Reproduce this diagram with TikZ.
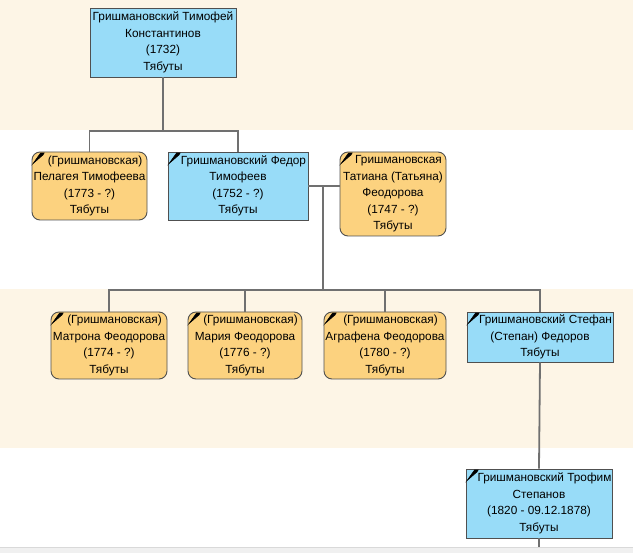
\documentclass[tikz,border=0pt]{standalone}
\usepackage{fontspec}
\setmainfont{Liberation Sans}
\definecolor{bandbeige}{HTML}{FDF5E6}
\definecolor{boxblue}{HTML}{98DCF8}
\definecolor{boxorange}{HTML}{FCD27F}
\definecolor{boxborder}{HTML}{505050}
\definecolor{linkgray}{HTML}{707070}
\definecolor{stripgray}{HTML}{F0F0F0}
\tikzset{
  person/.style={draw=boxborder, line width=0.9pt, align=center, inner sep=0pt,
    font=\fontsize{11.8}{16.5}\selectfont},
  bluebox/.style={person, fill=boxblue},
  orangebox/.style={person, fill=boxorange, rounded corners=8pt},
  link/.style={draw=linkgray, line width=1.8pt},
  deadmark/.style={fill=black, draw=black, line width=0.6pt, line join=miter}
}
\newcommand{\mk}{\hspace*{11pt}}
\newcommand{\markcorner}[1]{\filldraw[deadmark] ([shift={(1.5,12)}]#1.north west) -- ++(7.5,-10.5) -- ++(3.5,0) -- ++(-1,1.8) -- cycle;}
\begin{document}
\begin{tikzpicture}[x=1pt,y=-1pt]
\useasboundingbox (0,0) rectangle (633,553);
% background bands
\fill[bandbeige] (0,0) rectangle (633,130);
\fill[white] (0,130) rectangle (633,289);
\fill[bandbeige] (0,289) rectangle (633,448);
\fill[white] (0,448) rectangle (633,547);
% nodes
\node[bluebox, minimum width=146, minimum height=69] (timofey) at (163,42.5)
  {Гришмановский Тимофей\\Константинов\\(1732)\\Тябуты};
\node[orangebox, minimum width=115, minimum height=68] (pelageya) at (89.5,186)
  {\mk(Гришмановская)\\Пелагея Тимофеева\\(1773 - ?)\\Тябуты};
\node[bluebox, minimum width=140, minimum height=68] (fedor) at (238,186)
  {\mk Гришмановский Федор\\Тимофеев\\(1752 - ?)\\Тябуты};
\node[orangebox, minimum width=106, minimum height=84] (tatiana) at (393,194)
  {\mk Гришмановская\\Татиана (Татьяна)\\Феодорова\\(1747 - ?)\\Тябуты};
\node[orangebox, minimum width=116, minimum height=67] (matrona) at (109,345.5)
  {\mk(Гришмановская)\\Матрона Феодорова\\(1774 - ?)\\Тябуты};
\node[orangebox, minimum width=114, minimum height=67] (maria) at (245,345.5)
  {\mk(Гришмановская)\\Мария Феодорова\\(1776 - ?)\\Тябуты};
\node[orangebox, minimum width=122, minimum height=67] (agrafena) at (385,345.5)
  {\mk(Гришмановская)\\Аграфена Феодорова\\(1780 - ?)\\Тябуты};
\node[bluebox, minimum width=146, minimum height=50] (stefan) at (540,337)
  {\mk Гришмановский Стефан\\(Степан) Федоров\\Тябуты};
\node[bluebox, minimum width=146, minimum height=69] (trofim) at (539,503.5)
  {\mk Гришмановский Трофим\\Степанов\\(1820 - 09.12.1878)\\Тябуты};
% connectors
\coordinate (j1) at (163,131);
\draw[link] (timofey.south) -- (j1);
\draw[link] (pelageya.north) |- (j1) -| (fedor.north);
\draw[link] (fedor.east) -- (tatiana.west |- fedor.east);
\coordinate (m1) at (323,186);
\coordinate (m2) at (323,290);
\draw[link] (m1) -- (m2);
\draw[link] (matrona.north) |- (m2) -| (stefan.north);
\draw[link] (maria.north) -- (maria.north |- m2);
\draw[link] (agrafena.north) -- (agrafena.north |- m2);
\draw[link] (stefan.south) -- (trofim.north);
\coordinate (bottomend) at (539,553);
\draw[link] (trofim.south) -- (bottomend);
% death marks
\markcorner{pelageya}
\markcorner{fedor}
\markcorner{tatiana}
\markcorner{matrona}
\markcorner{maria}
\markcorner{agrafena}
\markcorner{stefan}
\markcorner{trofim}
% bottom strip
\fill[stripgray] (0,547) rectangle (633,553);
\draw[draw=black!15, line width=0.8pt] (0,547) -- (633,547);
\end{tikzpicture}
\end{document}
